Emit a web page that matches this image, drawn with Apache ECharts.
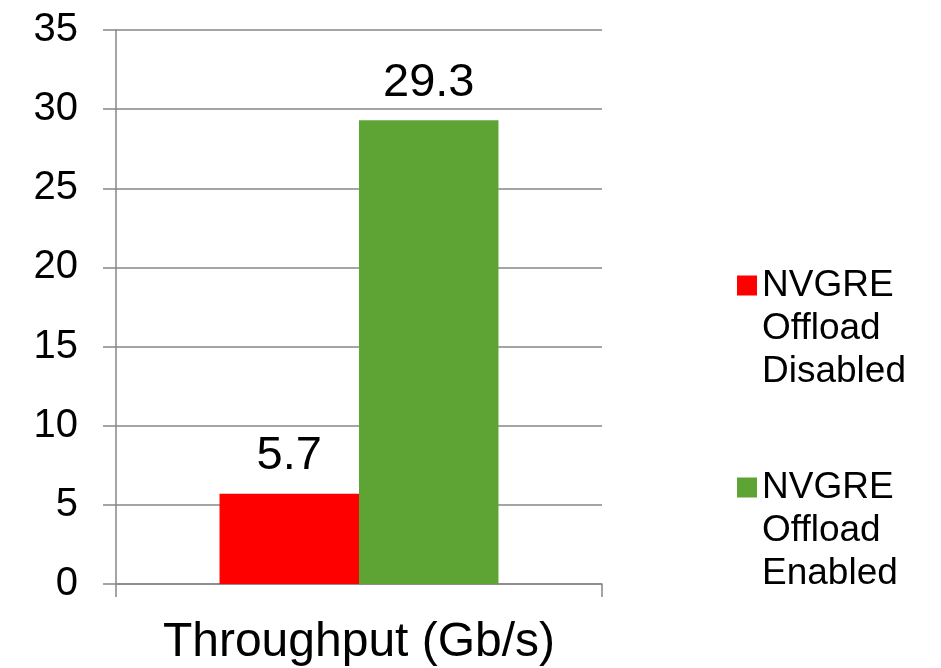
<!DOCTYPE html>
<html>
<head>
<meta charset="utf-8">
<script src="https://cdn.jsdelivr.net/npm/echarts@6/dist/echarts.min.js"></script>
<style>
html,body{margin:0;padding:0;background:#fff;}
#chart{width:941px;height:668px;}
</style>
</head>
<body>
<div id="chart"></div>
<script>
const categories = ['Throughput (Gb/s)'];
const seriesNames = ['NVGRE Offload Disabled', 'NVGRE Offload Enabled'];
const disabledValues = [5.7];
const enabledValues = [29.3];
const seriesColors = ['#FF0000', '#5DA434'];
const yMin = 0, yMax = 35, yStep = 5;

const FONT = '"Liberation Sans", Arial, sans-serif';
const chart = echarts.init(document.getElementById('chart'), null, {renderer: 'canvas'});

const labelStyle = {
  show: true, position: 'top', distance: 14,
  color: '#000', fontSize: 47, fontFamily: FONT
};

chart.setOption({
  animation: false,
  backgroundColor: '#fff',
  grid: {left: 116, right: 339, top: 30, bottom: 84, containLabel: false},
  legend: {
    orient: 'vertical',
    left: 737,
    top: 178,
    padding: 0,
    itemGap: -13,
    itemWidth: 20,
    itemHeight: 20,
    icon: 'rect',
    selectedMode: false,
    // two leading empty lines keep the marker level with the first text line
    formatter: name => '\n\n' + name.split(' ').join('\n'),
    textStyle: {
      color: '#000', fontSize: 37, fontFamily: FONT, lineHeight: 43
    },
    data: seriesNames
  },
  xAxis: {
    type: 'category',
    data: categories,
    boundaryGap: true,
    axisLine: {show: true, lineStyle: {color: '#878787', width: 1.5}},
    axisTick: {show: true, length: 13, lineStyle: {color: '#878787', width: 1.5}},
    axisLabel: {color: '#000', fontSize: 48, fontFamily: FONT, margin: 35},
    splitLine: {show: false}
  },
  yAxis: {
    type: 'value',
    min: yMin, max: yMax, interval: yStep,
    axisLine: {show: true, lineStyle: {color: '#878787', width: 1.5}},
    axisTick: {show: true, length: 13, lineStyle: {color: '#878787', width: 1.5}},
    axisLabel: {color: '#000', fontSize: 40, fontFamily: FONT, margin: 38},
    splitLine: {show: true, lineStyle: {color: '#878787', width: 1.5}}
  },
  series: [
    {
      name: seriesNames[0], type: 'bar', data: disabledValues,
      barGap: '0%', barCategoryGap: '42.6%',
      itemStyle: {color: seriesColors[0]},
      label: labelStyle
    },
    {
      name: seriesNames[1], type: 'bar', data: enabledValues,
      barGap: '0%', barCategoryGap: '42.6%',
      itemStyle: {color: seriesColors[1]},
      label: labelStyle
    }
  ]
});
</script>
</body>
</html>
